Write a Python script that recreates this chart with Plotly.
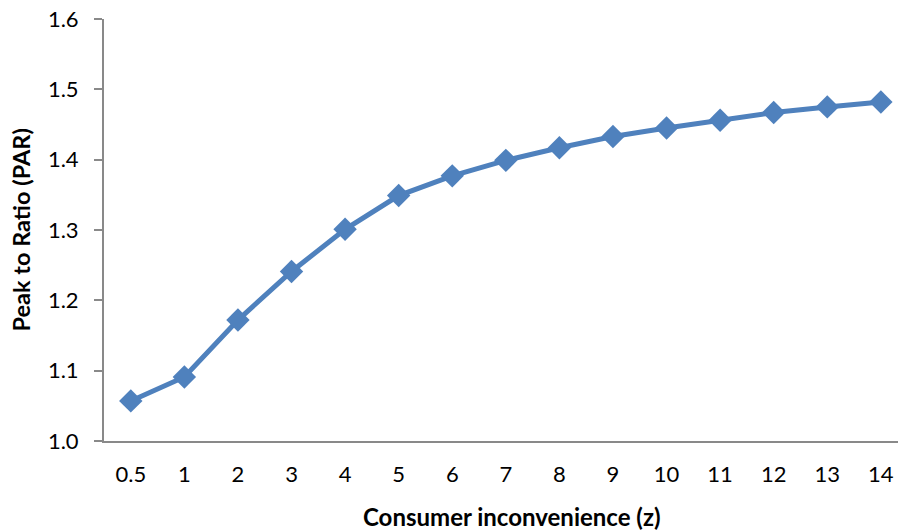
import plotly.graph_objects as go

# Consumer inconvenience levels (category axis) and the resulting peak-to-average ratio
z_labels = ["0.5", "1", "2", "3", "4", "5", "6", "7", "8", "9", "10", "11", "12", "13", "14"]
par_values = [1.057, 1.091, 1.172, 1.241, 1.301, 1.349, 1.377, 1.399, 1.417,
              1.433, 1.445, 1.456, 1.467, 1.475, 1.482]
y_ticks = [1.0, 1.1, 1.2, 1.3, 1.4, 1.5, 1.6]

LINE_COLOR = "#4F81BD"
AXIS_COLOR = "#898989"
FONT = "Lato, Liberation Sans, sans-serif"

fig = go.Figure(
    go.Scatter(
        x=z_labels,
        y=par_values,
        mode="lines+markers",
        line=dict(color=LINE_COLOR, width=5),
        marker=dict(symbol="diamond", size=18, color=LINE_COLOR),
        cliponaxis=False,
        showlegend=False,
    )
)

fig.update_layout(
    width=898,
    height=531,
    margin=dict(l=104, r=0, t=19, b=90),
    paper_bgcolor="white",
    plot_bgcolor="white",
    font=dict(family=FONT, size=22, color="black"),
    annotations=[
        dict(
            text="<b>Consumer inconvenience (z)</b>",
            xref="paper", yref="paper", x=0.514, y=-0.180,
            xanchor="center", yanchor="middle", showarrow=False,
            font=dict(size=24),
        ),
        dict(
            text="<b>Peak to Ratio (PAR)</b>",
            xref="paper", yref="paper", x=-0.104, y=0.5,
            xanchor="center", yanchor="middle", showarrow=False,
            textangle=-90, font=dict(size=23.5),
        ),
    ],
)

fig.update_xaxes(
    type="category",
    range=[-0.5, 14.32],
    showgrid=False,
    showline=True,
    linecolor=AXIS_COLOR,
    linewidth=2,
    ticks="",
    tickfont=dict(size=22),
    ticklabelstandoff=13,
)

fig.update_yaxes(
    range=[1.0, 1.6],
    tickvals=y_ticks,
    tickformat=".1f",
    showgrid=False,
    zeroline=False,
    showline=True,
    linecolor=AXIS_COLOR,
    linewidth=2,
    ticks="outside",
    ticklen=8,
    tickwidth=2,
    tickcolor=AXIS_COLOR,
    tickfont=dict(size=22),
    ticklabelstandoff=11,
)

fig.write_html("out.html")
